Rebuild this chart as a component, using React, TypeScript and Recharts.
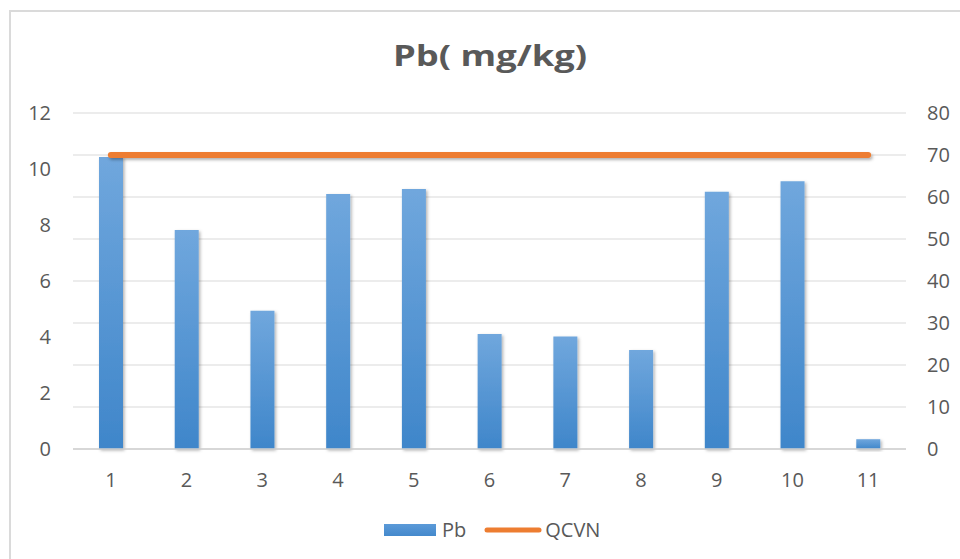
import React from 'react';
import { ComposedChart, Bar, Line, XAxis, YAxis, CartesianGrid, Legend } from 'recharts';

const categories = ['1', '2', '3', '4', '5', '6', '7', '8', '9', '10', '11'];
const pbValues = [10.43, 7.82, 4.94, 9.11, 9.29, 4.11, 4.02, 3.54, 9.19, 9.56, 0.35];
const qcvnValues = [70, 70, 70, 70, 70, 70, 70, 70, 70, 70, 70];
const leftTicks = [0, 2, 4, 6, 8, 10, 12];
const rightTicks = [0, 10, 20, 30, 40, 50, 60, 70, 80];
const titleText = 'Pb( mg/kg)';

const data = categories.map((c, i) => ({ name: c, Pb: pbValues[i], QCVN: qcvnValues[i] }));

const FONT = "'Open Sans', sans-serif";
const TEXT = '#595959';

const renderLegend = (props: any) => {
  const { payload } = props;
  return (
    <div style={{ display: 'flex', alignItems: 'center', height: 24, fontFamily: FONT, fontSize: 20, lineHeight: '24px', color: TEXT }}>
      {(payload || []).map((entry: any, i: number) => (
        <div key={i} style={{ display: 'flex', alignItems: 'center', marginRight: i === 0 ? 18 : 0 }}>
          {entry.value === 'Pb' ? (
            <svg width={52} height={12} style={{ marginRight: 6, display: 'block' }}>
              <rect x={0} y={0} width={52} height={12} fill="url(#pbGradH)" />
            </svg>
          ) : (
            <svg width={58} height={8} style={{ marginRight: 3, display: 'block' }}>
              <line x1={3} y1={4} x2={55} y2={4} stroke="#ed7d31" strokeWidth={5} strokeLinecap="round" />
            </svg>
          )}
          <span>{entry.value}</span>
        </div>
      ))}
    </div>
  );
};

export default function App() {
  return (
    <div style={{ position: 'absolute', left: 0, top: 0, width: 960, height: 559, overflow: 'hidden', background: '#fff' }}>
      <div style={{ position: 'absolute', left: 9, top: 10, width: 1000, height: 600, border: '2px solid #dadada', boxSizing: 'border-box' }} />
      <div style={{ position: 'absolute', left: 0, top: 0 }}>
        <ComposedChart width={960} height={559} data={data} margin={{ top: 113, right: 0, bottom: 80, left: 0 }}>
          <defs>
            <linearGradient id="pbGrad" x1="0" y1="0" x2="0" y2="1">
              <stop offset="0%" stopColor="#70a7dd" />
              <stop offset="100%" stopColor="#3f86ca" />
            </linearGradient>
            <linearGradient id="pbGradH" x1="0" y1="0" x2="0" y2="1">
              <stop offset="0%" stopColor="#5b9ad8" />
              <stop offset="100%" stopColor="#4489cc" />
            </linearGradient>
            <filter id="shadow" x="-20%" y="-20%" width="150%" height="150%">
              <feDropShadow dx="1.5" dy="1.5" stdDeviation="1.5" floodColor="#000" floodOpacity="0.3" />
            </filter>
            <filter id="lineShadow" filterUnits="userSpaceOnUse" x="0" y="0" width="960" height="559">
              <feDropShadow dx="1.5" dy="2" stdDeviation="1.5" floodColor="#000" floodOpacity="0.3" />
            </filter>
          </defs>
          <text x={490} y={66} textAnchor="middle" fontFamily={FONT} fontSize={29} fontWeight={700} fill={TEXT} textLength={194} lengthAdjust="spacingAndGlyphs">
            {titleText}
          </text>
          <CartesianGrid yAxisId="right" vertical={false} stroke="#d9d9d9" strokeWidth={1} />
          <XAxis
            dataKey="name"
            interval={0}
            height={30}
            tickLine={false}
            tickSize={0}
            tickMargin={24}
            axisLine={{ stroke: '#d0d0d0', strokeWidth: 1.5 }}
            tick={{ fill: TEXT, fontSize: 20, fontFamily: FONT }}
          />
          <YAxis
            yAxisId="left"
            orientation="left"
            width={73}
            domain={[0, 12]}
            ticks={leftTicks}
            interval={0}
            axisLine={false}
            tickLine={false}
            tickSize={0}
            tickMargin={22}
            tick={{ fill: TEXT, fontSize: 20, fontFamily: FONT }}
          />
          <YAxis
            yAxisId="right"
            orientation="right"
            width={54}
            domain={[0, 80]}
            ticks={rightTicks}
            interval={0}
            axisLine={false}
            tickLine={false}
            tickSize={0}
            tickMargin={21}
            tick={{ fill: TEXT, fontSize: 20, fontFamily: FONT }}
          />
          <Bar yAxisId="left" dataKey="Pb" barSize={24} fill="url(#pbGrad)" filter="url(#shadow)" isAnimationActive={false} />
          <Line
            yAxisId="right"
            dataKey="QCVN"
            stroke="#ed7d31"
            strokeWidth={6}
            strokeLinecap="round"
            dot={false}
            activeDot={false}
            filter="url(#lineShadow)"
            isAnimationActive={false}
          />
          <Legend
            layout="horizontal"
            verticalAlign="middle"
            align="center"
            wrapperStyle={{ top: 518, left: 384, width: 260, height: 24 }}
            content={renderLegend}
          />
        </ComposedChart>
      </div>
    </div>
  );
}
